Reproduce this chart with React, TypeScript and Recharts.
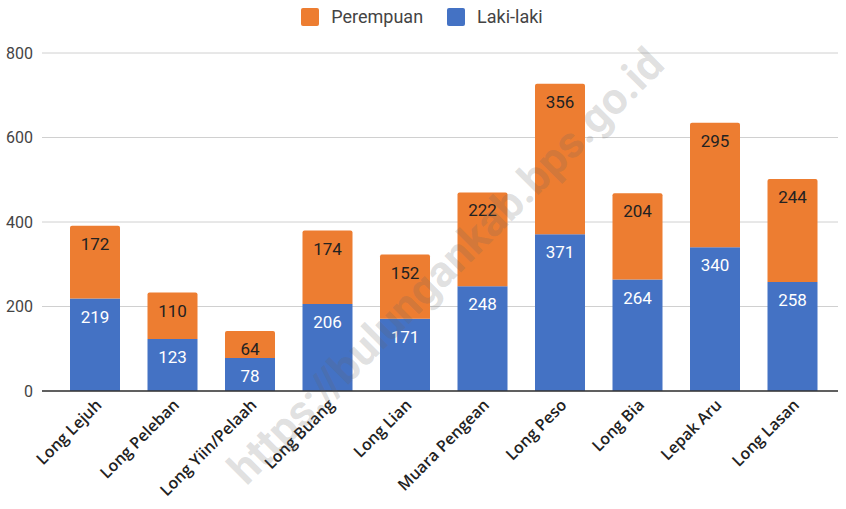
import { BarChart, Bar, XAxis, YAxis, CartesianGrid, Legend, LabelList } from "recharts";

const desa = [
  "Long Lejuh",
  "Long Peleban",
  "Long Yiin/Pelaah",
  "Long Buang",
  "Long Lian",
  "Muara Pengean",
  "Long Peso",
  "Long Bia",
  "Lepak Aru",
  "Long Lasan",
];
const lakiLaki = [219, 123, 78, 206, 171, 248, 371, 264, 340, 258];
const perempuan = [172, 110, 64, 174, 152, 222, 356, 204, 295, 244];
const yTicks = [0, 200, 400, 600, 800];

const data = desa.map((name, i) => ({ name, laki: lakiLaki[i], perempuan: perempuan[i] }));

const BLUE = "#4472c4";
const ORANGE = "#ed7d31";

function XTick({ x, y, payload }: any) {
  const tx = x + 8;
  const ty = y + 15;
  return (
    <text
      x={tx}
      y={ty}
      transform={`rotate(-45, ${tx}, ${ty})`}
      textAnchor="end"
      fontFamily="'Open Sans', sans-serif"
      fontWeight={600}
      fontSize={16}
      fill="#222"
    >
      {payload.value}
    </text>
  );
}

function LegendBox() {
  const items = [
    { label: "Perempuan", color: ORANGE },
    { label: "Laki-laki", color: BLUE },
  ];
  return (
    <div style={{ display: "flex", justifyContent: "center", gap: 24, fontFamily: "Roboto, sans-serif", fontSize: 18, color: "#444", lineHeight: "20px" }}>
      {items.map((it) => (
        <div key={it.label} style={{ display: "flex", alignItems: "center", gap: 12 }}>
          <span style={{ width: 18, height: 18, background: it.color, borderRadius: 2, display: "inline-block" }} />
          <span>{it.label}</span>
        </div>
      ))}
    </div>
  );
}

export default function App() {
  return (
    <div style={{ position: "absolute", left: 0, top: 0, width: 846, height: 509, background: "#fff" }}>
      <BarChart width={846} height={509} data={data} margin={{ top: 23, right: 8, left: 0, bottom: 8 }} barSize={50}>
        <CartesianGrid stroke="#d0d0d0" vertical={false} />
        <Legend verticalAlign="top" height={30} content={() => <LegendBox />} wrapperStyle={{ top: 7, left: 3 }} />
        <XAxis
          dataKey="name"
          interval={0}
          tick={<XTick />}
          tickLine={false}
          tickSize={0}
          tickMargin={0}
          axisLine={{ stroke: "#333", strokeWidth: 1.3 }}
          height={110}
          padding={{ left: 14, right: 7 }}
        />
        <YAxis
          domain={[0, 800]}
          ticks={yTicks}
          width={42}
          axisLine={false}
          tickLine={false}
          tickSize={0}
          tickMargin={9}
          tick={{ fontFamily: "Roboto, sans-serif", fontSize: 16, fill: "#444" }}
        />
        <Bar dataKey="laki" name="Laki-laki" stackId="a" fill={BLUE} isAnimationActive={false}>
          <LabelList dataKey="laki" position="insideTop" offset={12} fill="#fff" fontFamily="Roboto, sans-serif" fontSize={17} />
        </Bar>
        <Bar dataKey="perempuan" name="Perempuan" stackId="a" fill={ORANGE} radius={[2, 2, 0, 0]} isAnimationActive={false}>
          <LabelList dataKey="perempuan" position="insideTop" offset={12} fill="#222" fontFamily="Roboto, sans-serif" fontSize={17} />
        </Bar>
      </BarChart>
      {/* watermark */}
      <svg width={846} height={509} style={{ position: "absolute", left: 0, top: 0, pointerEvents: "none" }}>
        <text
          x={446}
          y={266}
          transform="rotate(-45, 446, 266)"
          textAnchor="middle"
          dominantBaseline="central"
          fontFamily="Roboto, sans-serif"
          fontWeight={700}
          fontSize={44}
          fill="rgba(100,100,100,0.2)"
        >
          https://bulungankab.bps.go.id
        </text>
      </svg>
    </div>
  );
}
